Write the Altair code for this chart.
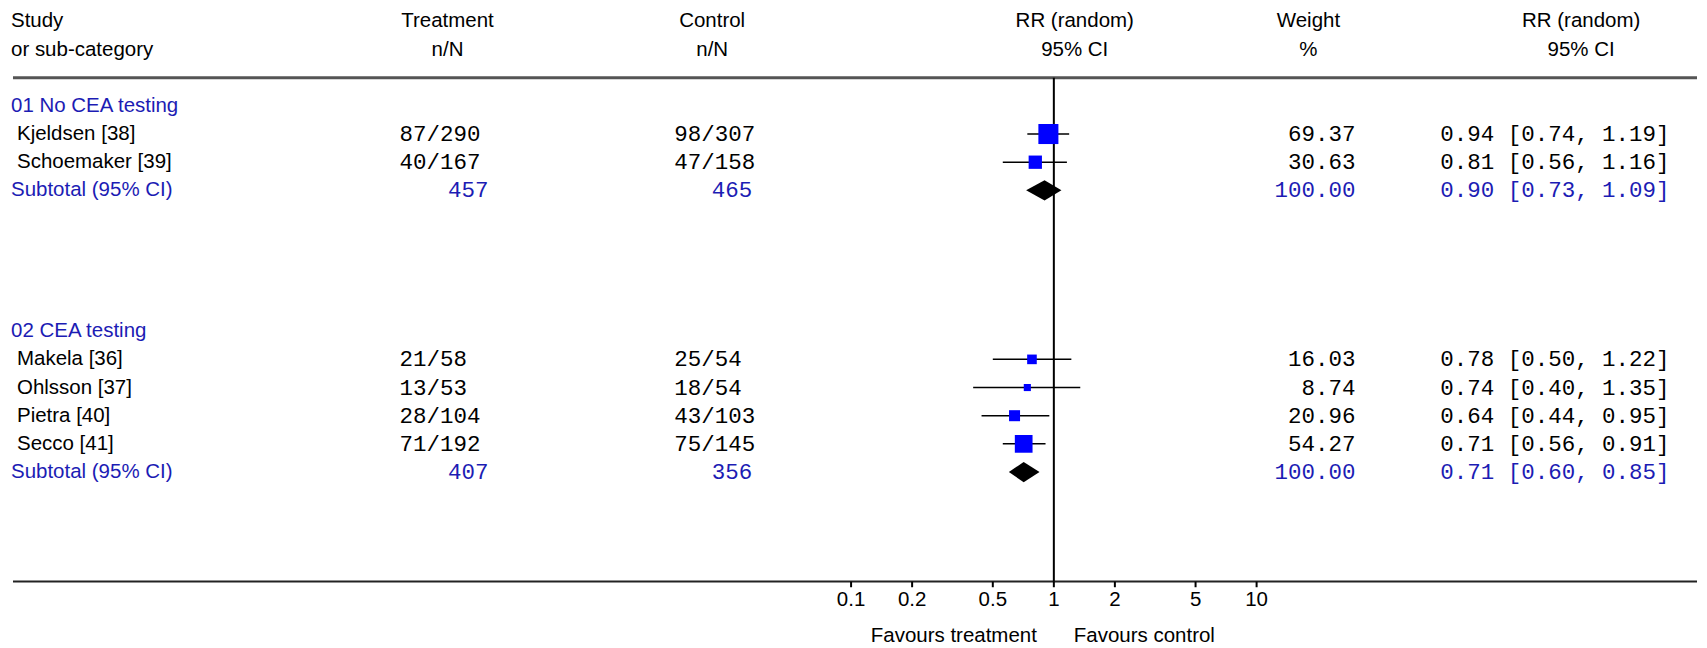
import altair as alt
import pandas as pd

# ---- data ------------------------------------------------------------------
studies = ["Kjeldsen [38]", "Schoemaker [39]", "Makela [36]", "Ohlsson [37]",
           "Pietra [40]", "Secco [41]"]
study_rows = [4, 5, 12, 13, 14, 15]
treat_nN = ["87/290", "40/167", "21/58", "13/53", "28/104", "71/192"]
ctrl_nN = ["98/307", "47/158", "25/54", "18/54", "43/103", "75/145"]
weights = [69.37, 30.63, 16.03, 8.74, 20.96, 54.27]
rr = [0.94, 0.81, 0.78, 0.74, 0.64, 0.71]
rr_lo = [0.74, 0.56, 0.50, 0.40, 0.44, 0.56]
rr_hi = [1.19, 1.16, 1.22, 1.35, 0.95, 0.91]

groups = ["01 No CEA testing", "02 CEA testing"]
group_rows = [3, 11]
sub_rows = [6, 16]
sub_treat = ["457", "407"]
sub_ctrl = ["465", "356"]
sub_weight = [100.00, 100.00]
sub_rr = [0.90, 0.71]
sub_lo = [0.73, 0.60]
sub_hi = [1.09, 0.85]

ticks = [0.1, 0.2, 0.5, 1, 2, 5, 10]

W, H = 1691, 632
BLUE = "#1c1cb4"
SANS = "Liberation Sans"
MONO = "Liberation Mono"
FS = 20.5   # sans text size
FM = 22.5   # monospace number size
AXIS_ROW = 19.89

xs = alt.Scale(type="log", domain=[6.95e-6, 1486])
ys = alt.Scale(domain=[-0.461, 21.95], reverse=True)

st = pd.DataFrame({
    "name": studies, "row": study_rows, "t": treat_nN, "c": ctrl_nN,
    "w": [f"{v:.2f}" for v in weights], "size": [v * 5.8 for v in weights],
    "rr": rr, "lo": rr_lo, "hi": rr_hi,
    "ci": [f"{a:.2f} [{b:.2f}, {c:.2f}]" for a, b, c in zip(rr, rr_lo, rr_hi)],
})
sub = pd.DataFrame({
    "row": sub_rows, "t": sub_treat, "c": sub_ctrl,
    "w": [f"{v:.2f}" for v in sub_weight],
    "ci": [f"{a:.2f} [{b:.2f}, {c:.2f}]" for a, b, c in zip(sub_rr, sub_lo, sub_hi)],
})
grp = pd.DataFrame({"name": groups, "row": group_rows})
head_left = pd.DataFrame({"text": ["Study", "or sub-category"], "row": [0, 1]})
head_center = pd.DataFrame({
    "text": ["Treatment", "n/N", "Control", "n/N",
             "RR (random)", "95% CI", "Weight", "%", "RR (random)", "95% CI"],
    "row": [0, 1] * 5,
    "x": [440, 440, 705, 705, 1068, 1068, 1302, 1302, 1575, 1575],
})

# diamond polygons for the subtotals
dia = []
for i, (a, b, c) in enumerate(zip(sub_rr, sub_lo, sub_hi)):
    r = sub_rows[i]
    for xv, h in [(b, 0), (a, 0.36), (c, 0)]:
        dia.append({"g": i, "x": xv, "y": r - h, "y2": r + h})
dia = pd.DataFrame(dia)
tk = pd.DataFrame({"v": ticks, "lab": [str(t) for t in ticks]})


def y(field="row"):
    return alt.Y(f"{field}:Q", scale=ys, axis=None)


def txt(df, field, x, align="left", color="black", font=SANS, size=FS):
    return alt.Chart(df).mark_text(
        align=align, baseline="middle", font=font, fontSize=size, color=color
    ).encode(x=alt.value(x), y=y(), text=f"{field}:N")


layers = [
    txt(head_left, "text", 3),
    alt.Chart(head_center).mark_text(baseline="middle", font=SANS, fontSize=FS, color="black")
    .encode(x=alt.X("x:Q", scale=alt.Scale(domain=[0, W]), axis=None), y=y(), text="text:N"),
]
# rows
layers += [
    txt(grp, "name", 3, color=BLUE),
    txt(st, "name", 9),
    txt(st, "t", 392, font=MONO, size=FM),
    txt(st, "c", 667, font=MONO, size=FM),
    txt(st, "w", 1349, align="right", font=MONO, size=FM),
    txt(st, "ci", 1434, font=MONO, size=FM),
    txt(sub.assign(name="Subtotal (95% CI)"), "name", 3, color=BLUE),
    txt(sub, "t", 481, align="right", color=BLUE, font=MONO, size=FM),
    txt(sub, "c", 745, align="right", color=BLUE, font=MONO, size=FM),
    txt(sub, "w", 1349, align="right", color=BLUE, font=MONO, size=FM),
    txt(sub, "ci", 1434, color=BLUE, font=MONO, size=FM),
]

lines = pd.DataFrame({"row": [2, AXIS_ROW], "sw": [3, 2], "col": ["#555555", "#222222"]})
layers.append(
    alt.Chart(lines).mark_rule()
    .encode(x=alt.value(5), x2=alt.value(W), y=y(),
            strokeWidth=alt.StrokeWidth("sw:Q", legend=None, scale=None),
            color=alt.Color("col:N", scale=None))
)
# line of no effect
layers.append(
    alt.Chart(pd.DataFrame({"v": [1], "a": [2], "b": [AXIS_ROW]})).mark_rule(color="black", strokeWidth=2)
    .encode(x=alt.X("v:Q", scale=xs, axis=None), y=y("a"), y2="b:Q")
)
# CIs and squares
layers += [
    alt.Chart(st).mark_rule(color="black", strokeWidth=1.5)
    .encode(x=alt.X("lo:Q", scale=xs, axis=None), x2="hi:Q", y=y()),
    alt.Chart(st).mark_square(color="#0000ff", opacity=1, filled=True)
    .encode(x=alt.X("rr:Q", scale=xs, axis=None), y=y(),
            size=alt.Size("size:Q", scale=None, legend=None)),
    alt.Chart(dia).mark_area(color="black", opacity=1)
    .encode(x=alt.X("x:Q", scale=xs, axis=None), y=y("y"), y2="y2:Q", detail="g:N"),
]
# axis ticks and labels
layers += [
    alt.Chart(tk.assign(a=AXIS_ROW, b=AXIS_ROW + 0.2)).mark_rule(color="black", strokeWidth=2)
    .encode(x=alt.X("v:Q", scale=xs, axis=None), y=y("a"), y2="b:Q"),
    alt.Chart(tk.assign(row=20.55)).mark_text(font=SANS, fontSize=FS, baseline="middle")
    .encode(x=alt.X("v:Q", scale=xs, axis=None), y=y(), text="lab:N"),
    alt.Chart(pd.DataFrame({"v": [1], "row": [21.81]})).mark_text(
        font=SANS, fontSize=FS, baseline="middle", align="right", dx=-17)
    .encode(x=alt.X("v:Q", scale=xs, axis=None), y=y(), text=alt.value("Favours treatment")),
    alt.Chart(pd.DataFrame({"v": [1], "row": [21.81]})).mark_text(
        font=SANS, fontSize=FS, baseline="middle", align="left", dx=20)
    .encode(x=alt.X("v:Q", scale=xs, axis=None), y=y(), text=alt.value("Favours control")),
]

chart = (
    alt.layer(*layers)
    .resolve_scale(x="independent")
    .properties(width=W, height=H, padding=0, background="white")
    .configure_view(stroke=None)
)
chart.save("out.html", embed_options={"renderer": "svg", "actions": False})
